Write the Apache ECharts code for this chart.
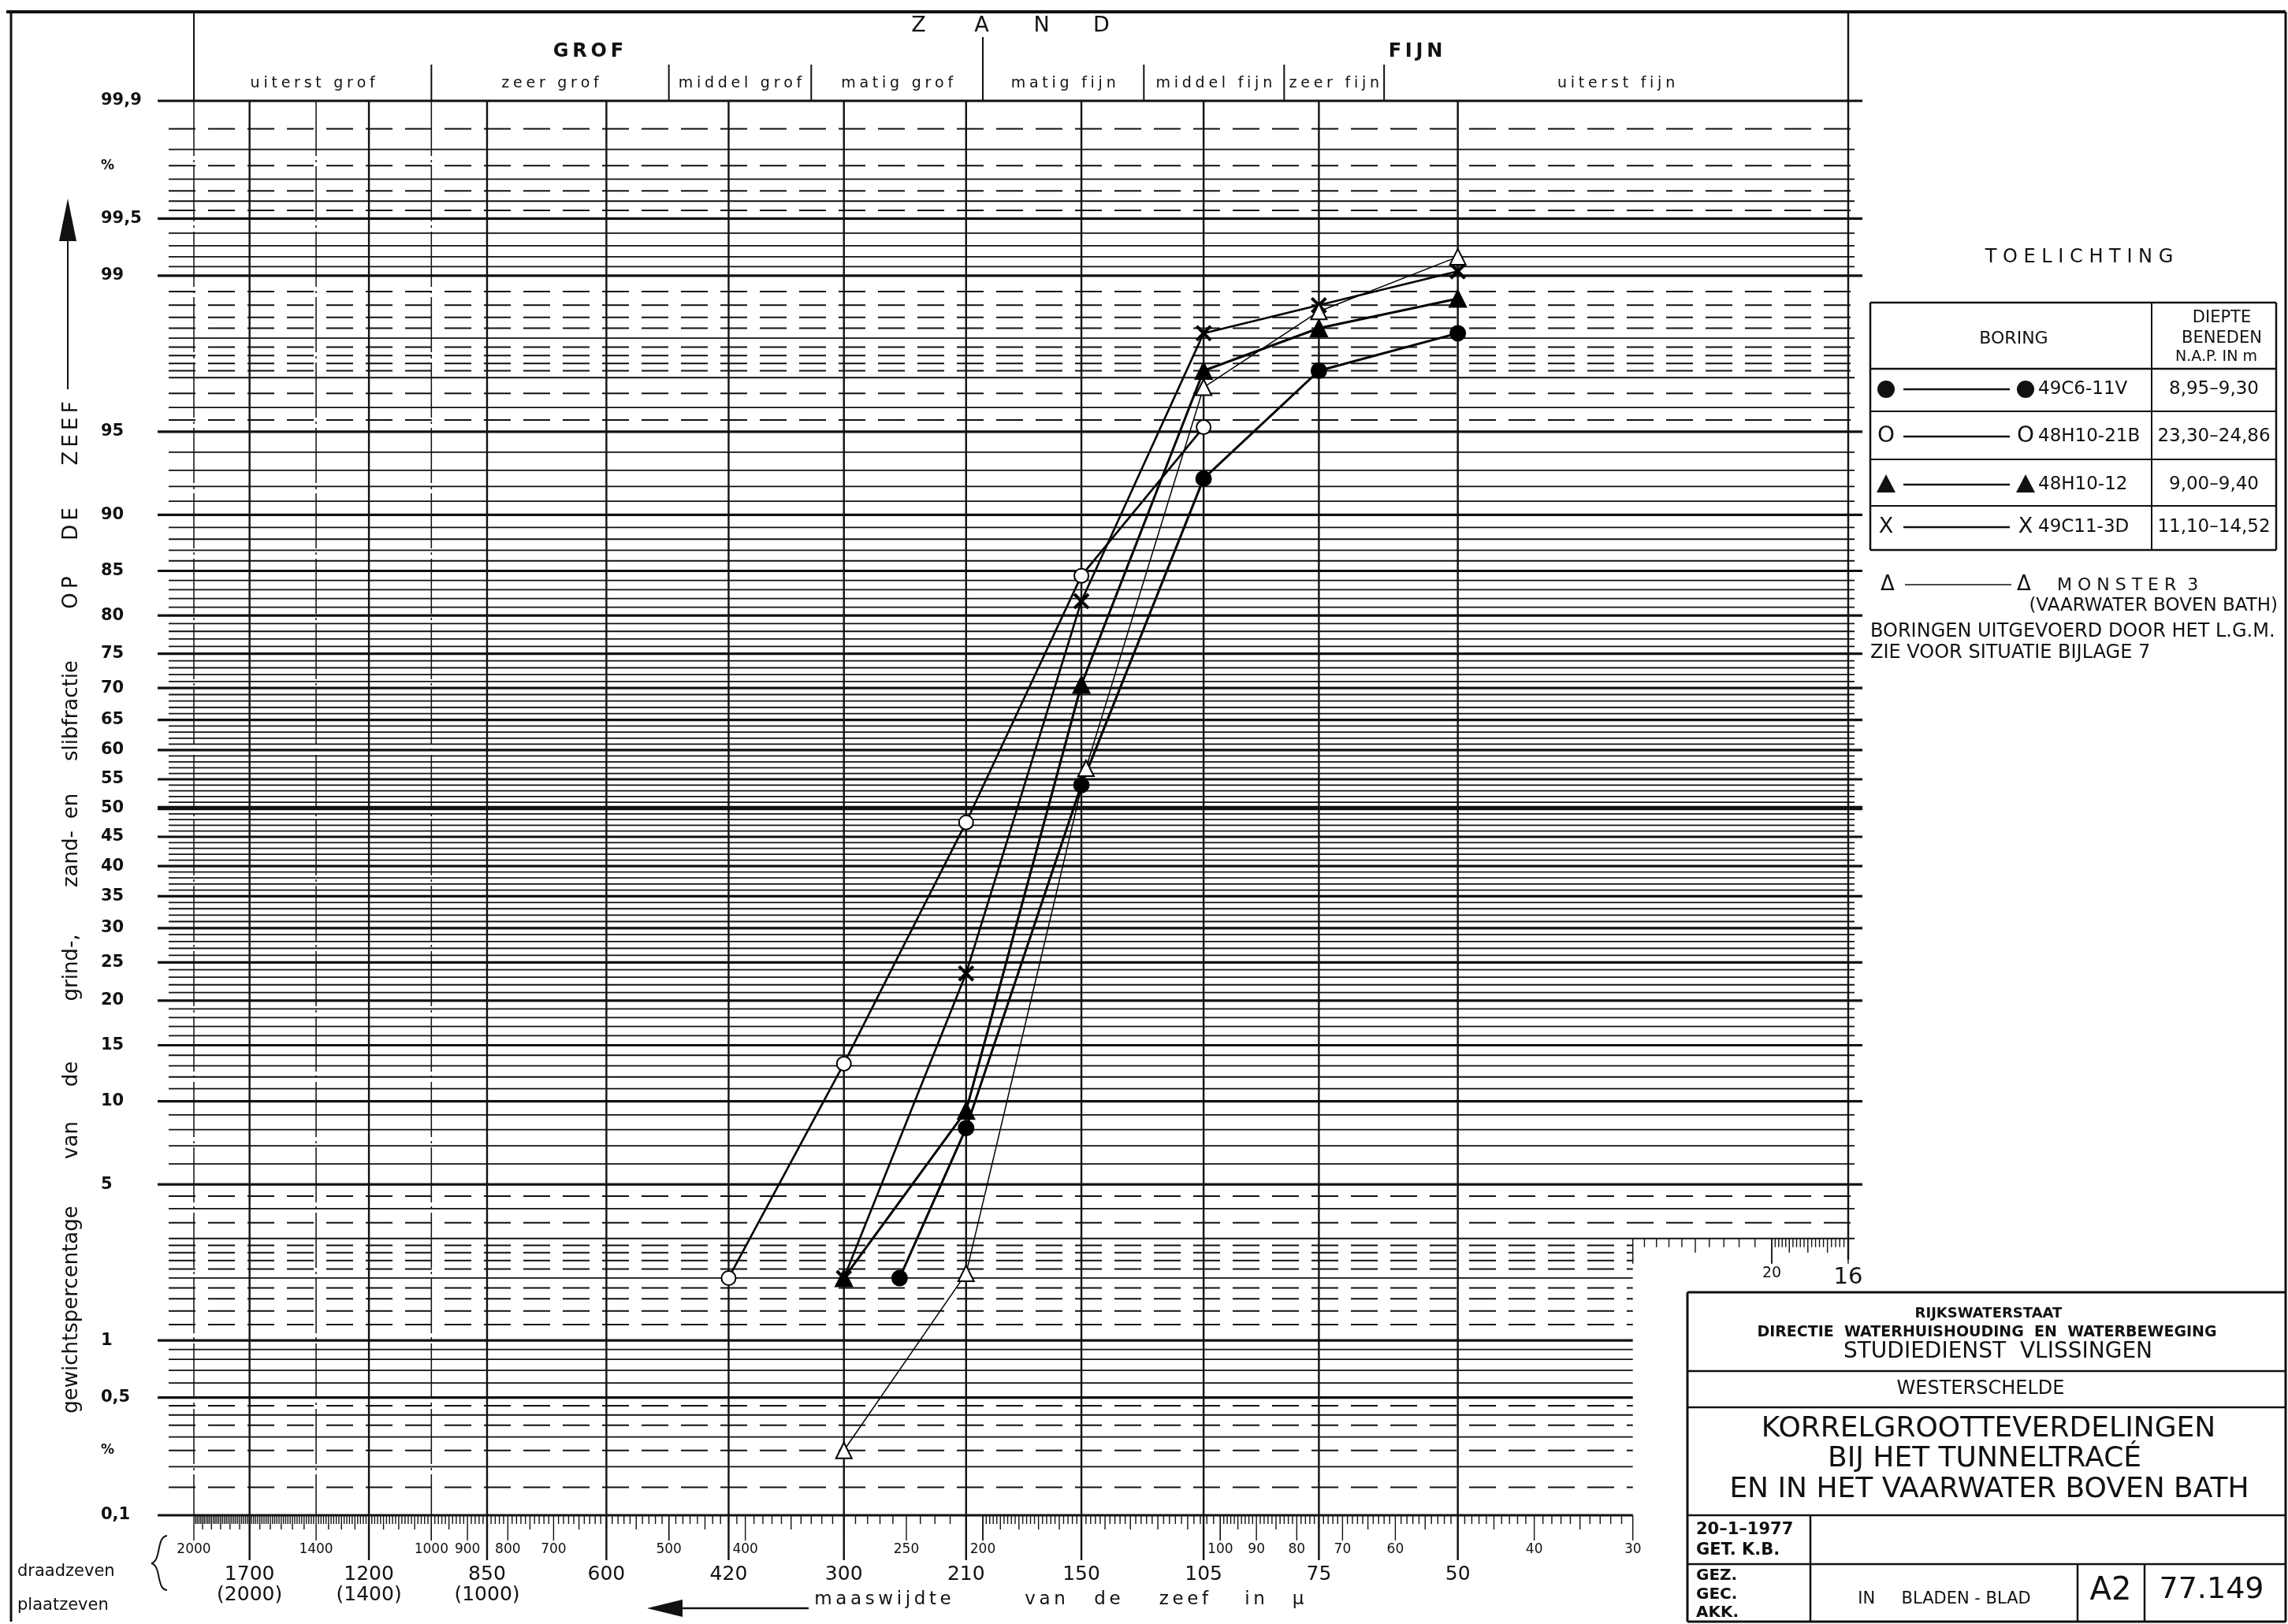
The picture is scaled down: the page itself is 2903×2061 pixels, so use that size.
<!DOCTYPE html>
<html>
<head>
<meta charset="utf-8">
<title>Korrelgrootteverdelingen</title>
<script src="https://cdn.jsdelivr.net/npm/echarts@6/dist/echarts.min.js"></script>
<style>
html, body { margin: 0; padding: 0; background: #fff; }
#chart { width: 2903px; height: 2061px; }
</style>
</head>
<body>
<div id="chart"></div>
<script>
// zeefmaat (micron) en gewichtspercentage op de zeef, per boring
var zeef_49C6 = [255, 210, 150, 105, 75, 50];
var perc_49C6 = [2.0, 8.1, 54.0, 92.5, 97.2, 98.1];
var zeef_48H10_21B = [420, 300, 210, 150, 105];
var perc_48H10_21B = [2.0, 13.2, 47.5, 84.5, 95.2];
var zeef_48H10_12 = [300, 210, 150, 105, 75, 50];
var perc_48H10_12 = [2.0, 9.3, 70.5, 97.2, 98.2, 98.7];
var zeef_49C11 = [300, 210, 150, 105, 75, 50];
var perc_49C11 = [2.0, 23.5, 81.7, 98.1, 98.6, 99.05];
var zeef_monster3 = [300, 210, 148, 105, 75, 50];
var perc_monster3 = [0.25, 2.1, 56.9, 96.7, 98.5, 99.2];

// y-as (waarschijnlijkheidsschaal)
var yTickValues = [99.9, 99.5, 99, 95, 90, 85, 80, 75, 70, 65, 60, 55, 50, 45, 40, 35, 30, 25, 20, 15, 10, 5, 1, 0.5, 0.1];
var yTickLabels = ['99,9', '99,5', '99', '95', '90', '85', '80', '75', '70', '65', '60', '55', '50', '45', '40', '35', '30', '25', '20', '15', '10', '5', '1', '0,5', '0,1'];
var yThin = [99.8, 99.7, 99.6, 99.4, 99.3, 99.2, 99.1, 98, 97, 96, 4, 3, 2, 0.9, 0.8, 0.7, 0.6, 0.4, 0.3, 0.2];
var yDashed = [99.85, 99.75, 99.65, 99.55, 98.8, 98.6, 98.4, 98.2, 97.8, 97.6, 97.4, 97.2, 96.5, 95.5,
  4.5, 3.5, 2.8, 2.6, 2.4, 2.2, 1.8, 1.6, 1.4, 1.2, 0.45, 0.35, 0.25, 0.15];

// x-as (maaswijdte)
var plaatzeven = [1700, 1200, 850, 600, 420, 300, 210, 150, 105, 75, 50];
var plaatzevenDraad = ['(2000)', '(1400)', '(1000)'];
var draadzeven = [2000, 1400, 1000, 900, 800, 700, 500, 400, 250, 200, 100, 90, 80, 70, 60, 40, 30];
var draadLijnen = [2000, 1400, 1000];
var klasseGrenzen = [2000, 1000, 500, 330, 200, 125, 83, 62, 16];
var klasseNamen = ['uiterst grof', 'zeer grof', 'middel grof', 'matig grof', 'matig fijn', 'middel fijn', 'zeer fijn', 'uiterst fijn'];

// toelichting
var boringen = ['49C6-11V', '48H10-21B', '48H10-12', '49C11-3D'];
var diepten = ['8,95\u20139,30', '23,30\u201324,86', '9,00\u20139,40', '11,10\u201314,52'];

var FONT = 'DejaVu Sans';

function probit(p) {
    // inverse normale verdeling (Acklam), p in procenten
    var q = p / 100;
    var a = [-3.969683028665376e+01, 2.209460984245205e+02, -2.759285104469687e+02, 1.383577518672690e+02, -3.066479806614716e+01, 2.506628277459239e+00];
    var b = [-5.447609879822406e+01, 1.615858368580409e+02, -1.556989798598866e+02, 6.680131188771972e+01, -1.328068155288572e+01];
    var c = [-7.784894002430293e-03, -3.223964580411365e-01, -2.400758277161838e+00, -2.549671348243197e+00, 4.374664141464968e+00, 2.938163982698783e+00];
    var d = [7.784695709041462e-03, 3.224671290700398e-01, 2.445134137142996e+00, 3.754408661907416e+00];
    var pl = 0.02425, t, r;
    if (q < pl) {
        t = Math.sqrt(-2 * Math.log(q));
        return (((((c[0] * t + c[1]) * t + c[2]) * t + c[3]) * t + c[4]) * t + c[5]) / ((((d[0] * t + d[1]) * t + d[2]) * t + d[3]) * t + 1);
    }
    if (q > 1 - pl) {
        t = Math.sqrt(-2 * Math.log(1 - q));
        return -(((((c[0] * t + c[1]) * t + c[2]) * t + c[3]) * t + c[4]) * t + c[5]) / ((((d[0] * t + d[1]) * t + d[2]) * t + d[3]) * t + 1);
    }
    t = q - 0.5; r = t * t;
    return (((((a[0] * r + a[1]) * r + a[2]) * r + a[3]) * r + a[4]) * r + a[5]) * t / (((((b[0] * r + b[1]) * r + b[2]) * r + b[3]) * r + b[4]) * r + 1);
}

var Z_MAX = probit(99.9), Z_MIN = probit(0.1), Z_3 = probit(3);

function hgridData() {
    var rows = [];
    for (var i = 6; i <= 94; i++) {
        if (i % 5 != 0) rows.push([2000, probit(i), 0, i]);
    }
    yThin.forEach(function (p) { rows.push([2000, probit(p), 0, p]); });
    yDashed.forEach(function (p) { rows.push([2000, probit(p), 1, p]); });
    yTickValues.forEach(function (p) { rows.push([2000, probit(p), p == 50 ? 3 : 2, p]); });
    return rows;
}

function vgridData() {
    var rows = [];
    plaatzeven.forEach(function (v) { rows.push([v, 0, 0]); });
    draadLijnen.forEach(function (v) { rows.push([v, 0, 1]); });
    return rows;
}

function rulerData(steps, z) {
    var rows = [];
    steps.forEach(function (s) {
        var n = Math.round((s[1] - s[0]) / s[2]);
        for (var k = 0; k <= n; k++) {
            var v = +(s[0] + k * s[2]).toFixed(2);
            var len = (k % 5 == 0) ? 18 : 11;
            if (draadzeven.indexOf(v) >= 0 || v == 16 || v == 20) len = 32;
            rows.push([v, z, len]);
        }
    });
    return rows;
}

function renderHLine(params, api) {
    var z = api.value(1), kind = api.value(2), p = api.value(3);
    var a = api.coord([2000, z]);
    var b = api.coord([p >= 3 ? 16 : 30, z]);
    var x0 = a[0] - (kind >= 2 ? 46 : 32);
    var x1 = b[0] + (p >= 3 ? (kind >= 2 ? 18 : 8) : 0);
    var style = { stroke: '#111', lineWidth: [1.8, 2, 3.2, 5.5][kind], fill: null };
    if (kind == 1) style.lineDash = [34, 16];
    return { type: 'line', shape: { x1: x0, y1: a[1], x2: x1, y2: a[1] }, style: style };
}

function renderVLine(params, api) {
    var v = api.value(0), kind = api.value(2);
    var top = api.coord([v, Z_MAX]), bot = api.coord([v, Z_MIN]);
    var style = { stroke: '#111', lineWidth: kind == 0 ? 2.4 : 1.5, fill: null };
    if (kind == 1) style.lineDash = [70, 5, 3, 5];
    return { type: 'line', shape: { x1: top[0], y1: top[1], x2: bot[0], y2: bot[1] + (kind == 0 ? 57 : 0) }, style: style };
}

function renderTick(params, api) {
    var p = api.coord([api.value(0), api.value(1)]);
    return { type: 'line', shape: { x1: p[0], y1: p[1], x2: p[0], y2: p[1] + api.value(2) }, style: { stroke: '#111', lineWidth: 1.4, fill: null } };
}

function boring(name, sizes, percs, symbol, size, width, fill) {
    return {
        name: name,
        type: 'line',
        data: sizes.map(function (s, i) { return [s, probit(percs[i])]; }),
        symbol: symbol,
        symbolSize: size,
        showAllSymbol: true,
        lineStyle: { color: '#000', width: width },
        itemStyle: { color: fill, borderColor: '#000', borderWidth: 2 },
        z: 10,
        silent: true
    };
}

var chart = echarts.init(document.getElementById('chart'));

var X_PATH = 'path://M0,0.8 L0.8,0 L5,4.2 L9.2,0 L10,0.8 L5.8,5 L10,9.2 L9.2,10 L5,5.8 L0.8,10 L0,9.2 L4.2,5 Z';

var option = {
    animation: false,
    backgroundColor: '#fff',
    grid: { left: 246, right: 558, top: 128, bottom: 138, containLabel: false },
    xAxis: { type: 'log', min: 16, max: 2000, inverse: true, show: false },
    yAxis: { type: 'value', min: Z_MIN, max: Z_MAX, show: false },
    series: [
        { type: 'custom', renderItem: renderHLine, data: hgridData(), encode: { x: 0, y: 1 }, silent: true, z: 1 },
        { type: 'custom', renderItem: renderVLine, data: vgridData(), encode: { x: 0, y: 1 }, silent: true, z: 2 },
        { type: 'custom', renderItem: renderTick, encode: { x: 0, y: 1 }, silent: true, z: 2,
          data: rulerData([[1000, 2000, 10], [500, 1000, 10], [200, 500, 10], [100, 200, 2], [30, 100, 1]], Z_MIN)
              .concat(rulerData([[20, 30, 1], [16, 20, 0.2]], Z_3)) },
        boring('49C6-11V', zeef_49C6, perc_49C6, 'circle', 19, 3, '#000'),
        boring('48H10-21B', zeef_48H10_21B, perc_48H10_21B, 'emptyCircle', 18, 2.6, '#000'),
        boring('48H10-12', zeef_48H10_12, perc_48H10_12, 'triangle', 21, 3, '#000'),
        boring('49C11-3D', zeef_49C11, perc_49C11, X_PATH, 18, 2.6, '#000'),
        boring('MONSTER 3', zeef_monster3, perc_monster3, 'emptyTriangle', 20, 1.5, '#000')
    ]
};
chart.setOption(option);

function px(v) { return chart.convertToPixel({ xAxisIndex: 0 }, v); }
function py(p) { return chart.convertToPixel({ yAxisIndex: 0 }, probit(p)); }
function spaced(s, sep) { return s.split('').join(sep || '\u2009'); }

var g = [];
function txt(s, x, y, font, align, rot) {
    var el = {
        type: 'text', x: x, y: y, silent: true, z: 20,
        style: { text: s, x: 0, y: 0, font: font, fill: '#111',
                 textAlign: align || 'center', textVerticalAlign: 'middle',
                 align: align || 'center', verticalAlign: 'middle' }
    };
    if (rot) el.rotation = rot;
    g.push(el);
}
function ln(x1, y1, x2, y2, w, dash) {
    var st = { stroke: '#111', lineWidth: w || 2, fill: null };
    if (dash) st.lineDash = dash;
    g.push({ type: 'line', silent: true, z: 20, shape: { x1: x1, y1: y1, x2: x2, y2: y2 }, style: st });
}
function poly(pts, fill) {
    g.push({ type: 'polygon', silent: true, z: 20, shape: { points: pts }, style: { fill: fill || '#111', stroke: null } });
}
function dot(cx, cy, r) {
    g.push({ type: 'circle', silent: true, z: 20, shape: { cx: cx, cy: cy, r: r }, style: { fill: '#111' } });
}

function drawDecor() {
    var xL = px(2000), xR = px(16), x200 = px(200);
    var yTop = py(99.9);

    // kader
    ln(8, 15, 2900, 15, 4);
    ln(14, 15, 14, 2058, 3);
    ln(2900, 15, 2900, 2058, 3);

    // kop: ZAND / GROF / FIJN
    ln(xL, 15, xL, yTop, 2);
    ln(xR, 15, xR, py(3) + 27, 2.4);
    ln(x200, 47, x200, yTop, 2);
    for (var i = 1; i < klasseGrenzen.length - 1; i++) {
        if (klasseGrenzen[i] != 200) ln(px(klasseGrenzen[i]), 82, px(klasseGrenzen[i]), yTop, 2);
    }
    var mid = (xL + xR) / 2 - 12;
    ['Z', 'A', 'N', 'D'].forEach(function (c, k) { txt(c, mid + [-118, -38, 38, 114][k], 33, '27px ' + FONT); });
    txt(spaced('GROF'), (xL + x200) / 2, 66, 'bold 24px ' + FONT);
    txt(spaced('FIJN'), (x200 + xR) / 2, 66, 'bold 24px ' + FONT);
    klasseNamen.forEach(function (n, k) {
        txt(spaced(n, '\u2005'), (px(klasseGrenzen[k]) + px(klasseGrenzen[k + 1])) / 2, 106, '19px ' + FONT);
    });

    // y-as labels
    yTickValues.forEach(function (p, k) { txt(yTickLabels[k], 128, py(p), 'bold 21px ' + FONT, 'left'); });
    txt('%', 128, py(99.75), 'bold 17px ' + FONT, 'left');
    txt('%', 128, py(0.25), 'bold 17px ' + FONT, 'left');

    // y-as titel
    var woorden = [['ZEEF', 550], ['DE', 665], ['OP', 752], ['slibfractie', 902], ['en', 1023], ['zand-', 1090],
                   ['grind-,', 1228], ['de', 1363], ['van', 1447], ['gewichtspercentage', 1662]];
    woorden.forEach(function (w) {
        var s = w[0] == w[0].toUpperCase() ? spaced(w[0]) : w[0];
        txt(s, 91, w[1], '26px ' + FONT, 'center', Math.PI / 2);
    });
    ln(86, 305, 86, 494, 2);
    poly([[86, 252], [75, 306], [97, 306]]);

    // x-as labels
    draadzeven.forEach(function (v) { txt(String(v), px(v), 1967, '17px ' + FONT); });
    plaatzeven.forEach(function (v) { txt(String(v), px(v), 1998, '25px ' + FONT); });
    plaatzevenDraad.forEach(function (s, k) { txt(s, px(plaatzeven[k]), 2024, '25px ' + FONT); });
    txt('draadzeven', 22, 1995, '21px ' + FONT, 'left');
    txt('plaatzeven', 22, 2038, '21px ' + FONT, 'left');
    g.push({ type: 'bezierCurve', silent: true, z: 20, shape: { x1: 212, y1: 1949, cpx1: 198, cpy1: 1950, cpx2: 205, cpy2: 1981, x2: 192, y2: 1984 }, style: { stroke: '#111', lineWidth: 2, fill: null } });
    g.push({ type: 'bezierCurve', silent: true, z: 20, shape: { x1: 192, y1: 1984, cpx1: 205, cpy1: 1987, cpx2: 198, cpy2: 2017, x2: 212, y2: 2018 }, style: { stroke: '#111', lineWidth: 2, fill: null } });
    ln(862, 2041, 1026, 2041, 2.5);
    poly([[821, 2041], [866, 2030], [866, 2052]]);
    [['maaswijdte', 1120], ['van', 1326], ['de', 1405], ['zeef', 1502], ['in', 1592], ['\u03bc', 1647]].forEach(function (w) {
        txt(spaced(w[0]), w[1], 2030, '23px ' + FONT);
    });
    txt('20', px(20), 1616, '19px ' + FONT);
    txt('16', px(16), 1621, '29px ' + FONT);

    // toelichting
    txt('T O E L I C H T I N G', 2638, 327, '24px ' + FONT);
    ln(2373, 384, 2888, 384, 2.5);
    ln(2373, 468, 2888, 468, 2.5);
    ln(2373, 522, 2888, 522, 2);
    ln(2373, 583, 2888, 583, 2);
    ln(2373, 642, 2888, 642, 2);
    ln(2373, 698, 2888, 698, 2.5);
    ln(2373, 384, 2373, 698, 2.5);
    ln(2888, 384, 2888, 698, 2.5);
    ln(2730, 384, 2730, 698, 2);
    txt('BORING', 2555, 430, '22px ' + FONT);
    txt('DIEPTE', 2819, 404, '21px ' + FONT);
    txt('BENEDEN', 2819, 430, '21px ' + FONT);
    txt('N.A.P. IN m', 2812, 453, '19px ' + FONT);
    var rijY = [494, 554, 615, 669];
    rijY.forEach(function (y, k) {
        ln(2415, y, 2550, y, 2.6);
        [2393, 2570].forEach(function (x) {
            if (k == 0) dot(x, y, 11);
            if (k == 1) txt('O', x, y, '28px ' + FONT);
            if (k == 2) poly([[x, y - 13], [x - 12, y + 10], [x + 12, y + 10]]);
            if (k == 3) txt('X', x, y, '27px ' + FONT);
        });
        txt(boringen[k], 2586, y, '23px ' + FONT, 'left');
        txt(diepten[k], 2809, y, '23px ' + FONT);
    });
    txt('\u0394', 2395, 742, '26px ' + FONT);
    ln(2417, 742, 2552, 742, 1.5);
    txt('\u0394', 2568, 742, '26px ' + FONT);
    txt('M O N S T E R  3', 2610, 743, '22px ' + FONT, 'left');
    txt('(VAARWATER BOVEN BATH)', 2890, 769, '23px ' + FONT, 'right');
    txt('BORINGEN UITGEVOERD DOOR HET L.G.M.', 2373, 802, '24px ' + FONT, 'left');
    txt('ZIE VOOR SITUATIE BIJLAGE 7', 2373, 829, '24px ' + FONT, 'left');

    // titelblok
    ln(2141, 1640, 2900, 1640, 3);
    ln(2141, 1640, 2141, 2058, 3);
    ln(2141, 2058, 2900, 2058, 3);
    ln(2141, 1740, 2900, 1740, 2.5);
    ln(2141, 1786, 2900, 1786, 2.5);
    ln(2141, 1923, 2900, 1923, 2.5);
    ln(2141, 1985, 2900, 1985, 2.5);
    ln(2297, 1923, 2297, 2058, 2.5);
    ln(2636, 1985, 2636, 2058, 2.5);
    ln(2721, 1985, 2721, 2058, 2.5);
    txt('RIJKSWATERSTAAT', 2523, 1667, 'bold 18px ' + FONT);
    txt('DIRECTIE  WATERHUISHOUDING  EN  WATERBEWEGING', 2521, 1691, 'bold 19px ' + FONT);
    txt('STUDIEDIENST  VLISSINGEN', 2535, 1716, '28px ' + FONT);
    txt('WESTERSCHELDE', 2513, 1763, '24px ' + FONT);
    txt('KORRELGROOTTEVERDELINGEN', 2523, 1814, '36px ' + FONT);
    txt('BIJ HET TUNNELTRAC\u00c9', 2518, 1852, '36px ' + FONT);
    txt('EN IN HET VAARWATER BOVEN BATH', 2524, 1891, '36px ' + FONT);
    txt('20\u20131\u20131977', 2152, 1942, 'bold 21px ' + FONT, 'left');
    txt('GET. K.B.', 2152, 1968, 'bold 21px ' + FONT, 'left');
    txt('GEZ.', 2152, 2000, 'bold 20px ' + FONT, 'left');
    txt('GEC.', 2152, 2024, 'bold 20px ' + FONT, 'left');
    txt('AKK.', 2152, 2047, 'bold 20px ' + FONT, 'left');
    txt('IN     BLADEN - BLAD', 2467, 2030, '21px ' + FONT);
    txt('A2', 2678, 2020, '40px ' + FONT);
    txt('77.149', 2806, 2018, '38px ' + FONT);

    chart.setOption({ graphic: { elements: g } });
}
drawDecor();
</script>
</body>
</html>
